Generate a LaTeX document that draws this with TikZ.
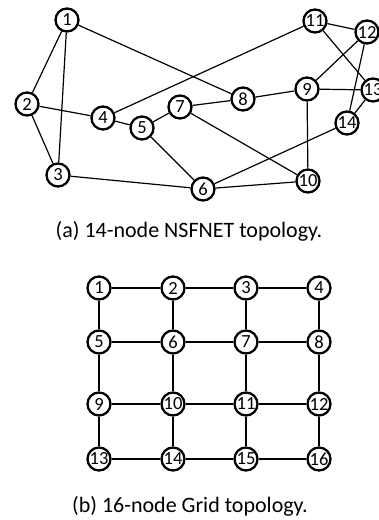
\documentclass[tikz,border=0pt]{standalone}
\usepackage{fontspec}
\setmainfont{Carlito}
\begin{document}
\begin{tikzpicture}[x=1pt,y=-1pt,
  vtx/.style={circle,draw,line width=2.3pt,minimum size=23pt,inner sep=0pt,
    fill=white,font=\fontsize{18.5}{18.5}\selectfont},
  link/.style={line width=1.2pt},
  captxt/.style={font=\fontsize{22}{22}\selectfont,inner sep=0pt}]
\useasboundingbox (0,0) rectangle (379,520);

% 14-node NSFNET
\node[vtx] (a1)  at (67,20)  {1};
\node[vtx] (a2)  at (27,104) {2};
\node[vtx] (a3)  at (58,175) {3};
\node[vtx] (a4)  at (103,118) {4};
\node[vtx] (a5)  at (142,128) {5};
\node[vtx] (a6)  at (203,189) {6};
\node[vtx] (a7)  at (180,107) {7};
\node[vtx] (a8)  at (243,99)  {8};
\node[vtx] (a9)  at (307,89)  {9};
\node[vtx] (a10) at (308,181) {10};
\node[vtx] (a11) at (315,21)  {11};
\node[vtx] (a12) at (367,32)  {12};
\node[vtx] (a13) at (373,90)  {13};
\node[vtx] (a14) at (347,123) {14};

\foreach \u/\v in {a1/a2,a1/a3,a1/a8,a2/a3,a2/a4,a3/a6,a4/a5,a4/a11,a5/a7,a5/a6,
  a7/a8,a7/a10,a8/a9,a9/a12,a9/a13,a9/a10,a11/a12,a11/a13,a12/a14,a13/a14,a6/a10,a6/a14}
  \draw[link] (\u) -- (\v);

\node[captxt,anchor=base] (capa) at (189,237) {(a) 14-node NSFNET topology.};

% 16-node grid
\foreach \r/\y in {0/288,1/342,2/404,3/459}
  \foreach \c/\x in {1/99,2/173,3/246,4/319}{
    \pgfmathtruncatemacro{\k}{4*\r+\c}
    \node[vtx] (g\k) at (\x,\y) {\k};
  }
\foreach \k in {1,2,3,5,6,7,9,10,11,13,14,15}{
  \pgfmathtruncatemacro{\n}{\k+1}
  \draw[link] (g\k) -- (g\n);
}
\foreach \k in {1,...,12}{
  \pgfmathtruncatemacro{\n}{\k+4}
  \draw[link] (g\k) -- (g\n);
}

\node[captxt,anchor=base] (capb) at (190,512) {(b) 16-node Grid topology.};
\end{tikzpicture}
\end{document}
